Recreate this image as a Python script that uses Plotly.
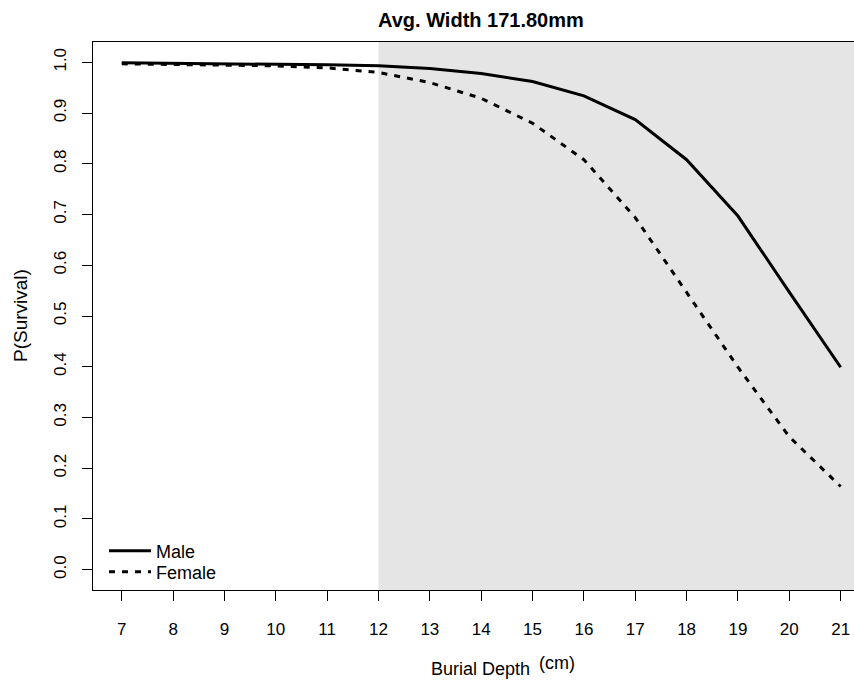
import plotly.graph_objects as go

depth = [7, 8, 9, 10, 11, 12, 13, 14, 15, 16, 17, 18, 19, 20, 21]
male = [0.999, 0.998, 0.998, 0.997, 0.995, 0.993, 0.988, 0.978, 0.962, 0.934,
        0.887, 0.808, 0.697, 0.547, 0.399]
female = [0.997, 0.996, 0.995, 0.993, 0.989, 0.980, 0.960, 0.929, 0.880, 0.808,
          0.694, 0.547, 0.399, 0.262, 0.164]
x_ticks = list(range(7, 22))
y_ticks = [0.0, 0.1, 0.2, 0.3, 0.4, 0.5, 0.6, 0.7, 0.8, 0.9, 1.0]
y_tick_text = ["0.0", "0.1", "0.2", "0.3", "0.4", "0.5", "0.6", "0.7", "0.8", "0.9", "1.0"]
title_text = "Avg. Width 171.80mm"
shade_start = 12

FONT = "Liberation Sans, Arial, sans-serif"
XMIN, XMAX = 6.44, 21.26
LEG_X = (104 - 93) / 761

fig = go.Figure()
fig.add_trace(go.Scatter(x=depth, y=male, mode="lines", name="Male", legend="legend",
                         line=dict(color="black", width=3)))
fig.add_trace(go.Scatter(x=depth, y=female, mode="lines", name="Female", legend="legend2",
                         line=dict(color="black", width=3, dash="6px,7px")))

fig.add_shape(type="rect", xref="x", yref="paper", x0=shade_start, x1=XMAX,
              y0=0, y1=1, fillcolor="#e5e5e5", line=dict(width=0), layer="below")

leg_common = dict(xanchor="left", yanchor="middle", bgcolor="rgba(0,0,0,0)",
                  font=dict(size=18, family=FONT), itemwidth=42)

fig.update_layout(
    width=854, height=681,
    margin=dict(l=93, r=0, t=42, b=91),
    paper_bgcolor="white", plot_bgcolor="white",
    font=dict(family=FONT, size=17, color="black"),
    showlegend=True,
    legend=dict(x=LEG_X, y=(590 - 551) / 548, **leg_common),
    legend2=dict(x=LEG_X, y=(590 - 572) / 548, **leg_common),
    xaxis=dict(range=[XMIN, XMAX], tickvals=x_ticks, ticktext=[str(v) for v in x_ticks],
               showgrid=False, zeroline=False, showline=True, linecolor="black",
               linewidth=1, mirror=True, ticks="outside", ticklen=10, tickwidth=1,
               tickcolor="black", ticklabelstandoff=14),
    yaxis=dict(range=[-0.04, 1.04], tickvals=y_ticks, ticktext=y_tick_text,
               showgrid=False, zeroline=False, showline=True, linecolor="black",
               linewidth=1, ticks="outside", ticklen=10, tickwidth=1,
               tickcolor="black", tickangle=-90, ticklabelstandoff=9),
)

fig.add_annotation(text="<b>" + title_text + "</b>", xref="x", yref="paper",
                   x=14, y=(590 - 20) / 548, xanchor="center", yanchor="middle",
                   showarrow=False, font=dict(size=20, family=FONT))
fig.add_annotation(text="Burial Depth", xref="paper", yref="paper",
                   x=(429 - 93) / 761, y=-(669 - 590) / 548, xanchor="left",
                   yanchor="middle", showarrow=False, font=dict(size=18, family=FONT))
fig.add_annotation(text="(cm)", xref="paper", yref="paper",
                   x=(537 - 93) / 761, y=-(663 - 590) / 548, xanchor="left",
                   yanchor="middle", showarrow=False, font=dict(size=18, family=FONT))
fig.add_annotation(text="P(Survival)", xref="paper", yref="paper",
                   x=-(93 - 20) / 761, y=0.5, xanchor="center", yanchor="middle",
                   textangle=-90, showarrow=False, font=dict(size=19, family=FONT))

fig.write_html("out.html", post_script="document.body.style.margin='0px';",
               config={"displayModeBar": False})
